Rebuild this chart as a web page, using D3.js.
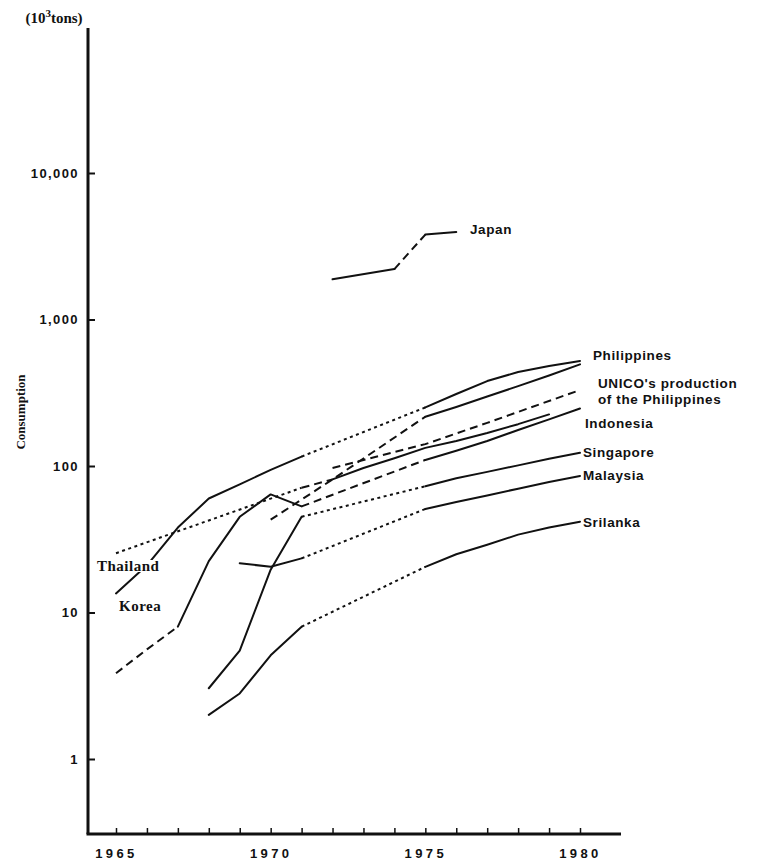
<!DOCTYPE html>
<html>
<head>
<meta charset="utf-8">
<script src="https://cdn.jsdelivr.net/npm/d3@7"></script>
<style>
  html, body { margin: 0; padding: 0; background: #fff; }
  svg { display: block; }
</style>
</head>
<body>
<svg id="chart" width="757" height="868"></svg>
<script>
// ---- axis ticks ----
const yearTicks = d3.range(1965, 1981);
const yearLabels = [1965, 1970, 1975, 1980];
const consumptionTicks = [1, 10, 100, 1000, 10000];

// ---- consumption series (10^3 tons) ----
const japanYears = [1972, 1974, 1975, 1976];
const japanValues = [1880, 2210, 3800, 3950];

const koreaYears = [1965, 1966, 1967, 1968, 1969, 1970, 1971, 1975, 1976, 1977, 1978, 1979, 1980];
const koreaValues = [13.5, 21, 38, 60, 75, 94, 116, 251, 310, 380, 438, 482, 521];

const philippinesYears = [1970, 1972, 1975, 1976, 1977, 1978, 1979, 1980];
const philippinesValues = [43, 81, 217, 253, 298, 351, 415, 494];

const unicoYears = [1972, 1975, 1977, 1980];
const unicoValues = [97, 141, 197, 330];

const thailandYears = [1965, 1968, 1971, 1972, 1973, 1974, 1975, 1976, 1977, 1978, 1979];
const thailandValues = [25.4, 42.5, 71, 81, 97, 113, 133, 148, 168, 193, 225];

const indonesiaYears = [1965, 1966, 1967, 1968, 1969, 1970, 1971, 1975, 1976, 1977, 1978, 1979, 1980];
const indonesiaValues = [3.85, 5.6, 8.0, 22.4, 45, 64, 53, 110, 127, 148, 176, 208, 247];

const singaporeYears = [1968, 1969, 1970, 1971, 1975, 1976, 1977, 1978, 1979, 1980];
const singaporeValues = [3.04, 5.5, 19.6, 45, 72.7, 82.4, 91.2, 101, 112, 123];

const malaysiaYears = [1969, 1970, 1971, 1975, 1976, 1977, 1978, 1979, 1980];
const malaysiaValues = [21.7, 20.5, 23.4, 50.9, 56.8, 63, 70, 77.8, 85.5];

const srilankaYears = [1968, 1969, 1970, 1971, 1975, 1976, 1977, 1978, 1979, 1980];
const srilankaValues = [2.0, 2.8, 5.1, 8.0, 20.5, 25, 29, 34, 38, 41.7];

// ---- scales ----
const x = d3.scaleLinear().domain([1965, 1980]).range([116, 580]);
const y = d3.scaleLog().domain([1, 10000]).range([759, 173]);

const svg = d3.select("#chart");
const INK = "#111";
const axisX0 = 88, axisX1 = 621, axisTop = 28, axisBottom = 834;

// ---- axes ----
svg.append("line")
  .attr("x1", axisX0).attr("x2", axisX0)
  .attr("y1", axisTop).attr("y2", axisBottom)
  .attr("stroke", INK).attr("stroke-width", 3);
svg.append("line")
  .attr("x1", axisX0 - 1.5).attr("x2", axisX1)
  .attr("y1", axisBottom).attr("y2", axisBottom)
  .attr("stroke", INK).attr("stroke-width", 3);

const yAxis = svg.append("g")
  .attr("transform", `translate(${axisX0},0)`)
  .call(d3.axisLeft(y)
    .tickValues(consumptionTicks)
    .tickSizeInner(-7).tickSizeOuter(0).tickPadding(9)
    .tickFormat(d3.format(",")));
yAxis.select(".domain").remove();
yAxis.selectAll(".tick line").attr("stroke", INK).attr("stroke-width", 2);
yAxis.selectAll(".tick text")
  .attr("fill", INK)
  .attr("font-family", "'Liberation Sans', Arial, sans-serif")
  .attr("font-weight", "bold")
  .attr("font-size", 13)
  .attr("letter-spacing", "1.4px");

const xAxis = svg.append("g")
  .attr("transform", `translate(0,${axisBottom})`)
  .call(d3.axisBottom(x)
    .tickValues(yearTicks)
    .tickSizeInner(-6).tickSizeOuter(0).tickPadding(15)
    .tickFormat(d => yearLabels.includes(d) ? String(d) : ""));
xAxis.select(".domain").remove();
xAxis.selectAll(".tick line").attr("stroke", INK).attr("stroke-width", 1.5);
xAxis.selectAll(".tick text")
  .attr("fill", INK)
  .attr("font-family", "'Liberation Sans', Arial, sans-serif")
  .attr("font-weight", "bold")
  .attr("font-size", 13)
  .attr("letter-spacing", "3.4px");

// unit and axis title
const unit = svg.append("text")
  .attr("x", 54).attr("y", 23)
  .attr("text-anchor", "middle")
  .attr("font-family", "'Liberation Serif', 'Times New Roman', serif")
  .attr("font-weight", "bold").attr("font-size", 15).attr("fill", INK);
unit.append("tspan").text("(10");
unit.append("tspan").attr("dy", -6).attr("font-size", 11).text("3");
unit.append("tspan").attr("dy", 6).text("tons)");

svg.append("text")
  .attr("transform", "translate(25,412) rotate(-90)")
  .attr("text-anchor", "middle")
  .attr("font-family", "'Liberation Serif', 'Times New Roman', serif")
  .attr("font-weight", "bold").attr("font-size", 13).attr("fill", INK)
  .text("Consumption");

// ---- series lines ----
const dashes = { solid: null, dotted: "3,3.5", dashed: "8,5" };

function points(years, values) {
  return years.map((yr, i) => ({ year: yr, value: values[i] }));
}

// each piece: [style, first point index, last point index]
const series = [
  { name: "Japan", data: points(japanYears, japanValues),
    pieces: [["solid", 0, 1], ["dashed", 1, 2], ["solid", 2, 3]] },
  { name: "Korea", data: points(koreaYears, koreaValues),
    pieces: [["solid", 0, 6], ["dotted", 6, 7], ["solid", 7, 12]] },
  { name: "Philippines", data: points(philippinesYears, philippinesValues),
    pieces: [["dashed", 0, 2], ["solid", 2, 7]] },
  { name: "UNICO", data: points(unicoYears, unicoValues),
    pieces: [["dashed", 0, 3]] },
  { name: "Thailand", data: points(thailandYears, thailandValues),
    pieces: [["dotted", 0, 2], ["dashed", 2, 3], ["solid", 3, 10]] },
  { name: "Indonesia", data: points(indonesiaYears, indonesiaValues),
    pieces: [["dashed", 0, 2], ["solid", 2, 6], ["dashed", 6, 7], ["solid", 7, 12]] },
  { name: "Singapore", data: points(singaporeYears, singaporeValues),
    pieces: [["solid", 0, 3], ["dotted", 3, 4], ["solid", 4, 9]] },
  { name: "Malaysia", data: points(malaysiaYears, malaysiaValues),
    pieces: [["solid", 0, 2], ["dotted", 2, 3], ["solid", 3, 8]] },
  { name: "Srilanka", data: points(srilankaYears, srilankaValues),
    pieces: [["solid", 0, 3], ["dotted", 3, 4], ["solid", 4, 9]] }
];

const line = d3.line().x(d => x(d.year)).y(d => y(d.value));
const lines = svg.append("g").attr("fill", "none").attr("stroke", INK)
  .attr("stroke-width", 2).attr("stroke-linejoin", "round");

series.forEach(s => {
  s.pieces.forEach(([style, a, b]) => {
    lines.append("path")
      .attr("d", line(s.data.slice(a, b + 1)))
      .attr("stroke-dasharray", dashes[style])
      .attr("stroke-linecap", style === "solid" ? "round" : "butt");
  });
});

// ---- series labels ----
const labelFont = "'Liberation Sans', Arial, sans-serif";
const rightLabels = [
  { text: ["Japan"], x: 470, y: 234 },
  { text: ["Philippines"], x: 593, y: 360 },
  { text: ["UNICO's production", "of the Philippines"], x: 598, y: 388 },
  { text: ["Indonesia"], x: 585, y: 428 },
  { text: ["Singapore"], x: 583, y: 457 },
  { text: ["Malaysia"], x: 583, y: 480 },
  { text: ["Srilanka"], x: 583, y: 527 }
];
rightLabels.forEach(l => {
  const t = svg.append("text")
    .attr("x", l.x).attr("y", l.y)
    .attr("font-family", labelFont).attr("font-weight", "bold")
    .attr("font-size", 13.5).attr("letter-spacing", "0.6px").attr("fill", INK);
  l.text.forEach((s, i) => {
    t.append("tspan").attr("x", l.x).attr("dy", i === 0 ? 0 : 15.5).text(s);
  });
});

// left-hand labels sit on a white patch so the lines under them break
const leftLabels = [
  { text: "Thailand", x: 97, y: 571 },
  { text: "Korea", x: 119, y: 611 }
];
leftLabels.forEach(l => {
  const t = svg.append("text")
    .attr("x", l.x).attr("y", l.y)
    .attr("font-family", "'Liberation Serif', 'Times New Roman', serif")
    .attr("font-weight", "bold").attr("font-size", 15)
    .attr("letter-spacing", "0.5px").attr("fill", INK)
    .text(l.text);
  const bb = t.node().getBBox();
  svg.insert("rect", function () { return t.node(); })
    .attr("x", bb.x - 1).attr("y", bb.y + 2)
    .attr("width", bb.width + 2).attr("height", bb.height - 4)
    .attr("fill", "#fff");
});
</script>
</body>
</html>
